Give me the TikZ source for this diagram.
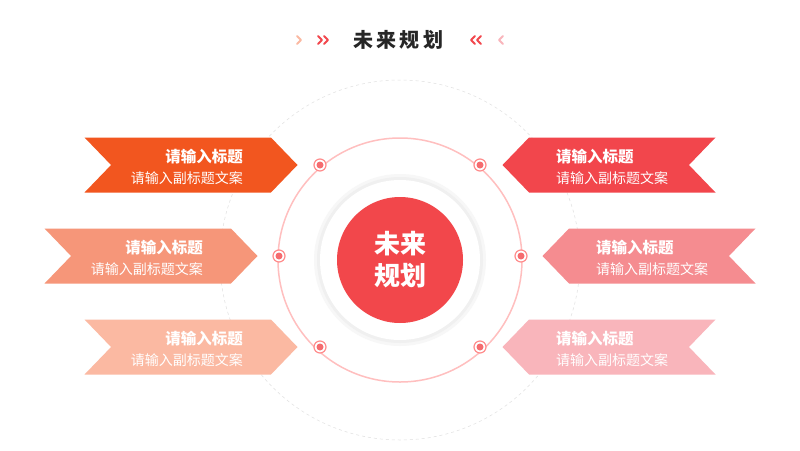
\documentclass[tikz,border=0pt]{standalone}
\usepackage{fontspec}
\newfontfamily\cjk{Noto Sans CJK SC}
\usetikzlibrary{positioning, shapes.symbols}
\definecolor{bandA}{HTML}{F2561F}
\definecolor{bandB}{HTML}{F69679}
\definecolor{bandC}{HTML}{FBB9A2}
\definecolor{bandD}{HTML}{F2464C}
\definecolor{bandE}{HTML}{F58C90}
\definecolor{bandF}{HTML}{F9B5BB}
\definecolor{coreRed}{HTML}{F2474B}
\begin{document}
\begin{tikzpicture}
    [
        x=1pt, y=-1pt,
        band/.style={signal, signal pointer angle=92, minimum width=213pt, minimum height=55pt, inner sep=0pt, draw=none},
        band_left/.style={band, signal from=west, signal to=east},
        band_right/.style={band, signal from=east, signal to=west},
        head_text/.style={font=\cjk\bfseries\fontsize{15.5}{17}\selectfont, text=white, inner sep=0pt},
        sub_text/.style={font=\cjk\fontsize{14}{16}\selectfont, text=white, inner sep=0pt},
        dot_node/.style={circle, draw=red!45, fill=white, line width=1.2pt, minimum size=12pt, inner sep=0pt},
        chev/.style={line width=1.8pt, line cap=round, line join=round},
    ]
        \useasboundingbox (0,0) rectangle (800,450);
        \fill[white] (0,0) rectangle (800,450);
        % title
        \node[font=\cjk\bfseries\fontsize{20}{22}\selectfont, text=black!85] (title) at (398,40) {未\,来\,规\,划};
        \draw[chev, color=bandC] (297,36) -- (301,40) -- (297,44);
        \draw[chev, color=bandD] (318,36) -- (322,40) -- (318,44) (324,36) -- (328,40) -- (324,44);
        \draw[chev, color=bandD] (481,36) -- (477,40) -- (481,44) (475,36) -- (471,40) -- (475,44);
        \draw[chev, color=bandF] (503,36) -- (499,40) -- (503,44);
        % rings
        \draw[black!12, dashed, line width=0.5pt] (400,260) circle (180);
        \draw[red!25, line width=1.5pt] (400,260) circle (122);
        \fill[black!3] (400,260) circle (86);
        \fill[black!6] (400,260) circle (83);
        \fill[white] (400,260) circle (80);
        \node[circle, fill=coreRed, minimum size=126pt, inner sep=0pt, align=center, font=\cjk\bfseries\fontsize{26}{32}\selectfont, text=white] (core) at (400,260) {未来\\规划};
        % dots
        \foreach \name/\px/\py in {dotA/320/165, dotB/480/165, dotC/279/256, dotD/521/256, dotE/320/347, dotF/480/347}
        {
            \node[dot_node] (\name) at (\px,\py) {};
            \fill[coreRed!80] (\name) circle (3.5);
        }
        % banners
        \foreach \name/\px/\py/\col/\side in {bA/191/165/bandA/left, bB/151/256/bandB/left, bC/191/347/bandC/left, bD/609/165/bandD/right, bE/649/256/bandE/right, bF/609/347/bandF/right}
        {
            \node[band_\side, fill=\col] (\name) at (\px,\py) {};
        }
        \foreach \name in {bA, bB, bC}
        {
            \node[head_text, anchor=east] (\name h) at ([xshift=52pt, yshift=8pt]\name.center) {请输入标题};
            \node[sub_text, anchor=east] (\name s) at ([xshift=52pt, yshift=-13pt]\name.center) {请输入副标题文案};
        }
        \foreach \name in {bD, bE, bF}
        {
            \node[head_text, anchor=west] (\name h) at ([xshift=-53pt, yshift=8pt]\name.center) {请输入标题};
            \node[sub_text, anchor=west] (\name s) at ([xshift=-53pt, yshift=-13pt]\name.center) {请输入副标题文案};
        }
\end{tikzpicture}
\end{document}
